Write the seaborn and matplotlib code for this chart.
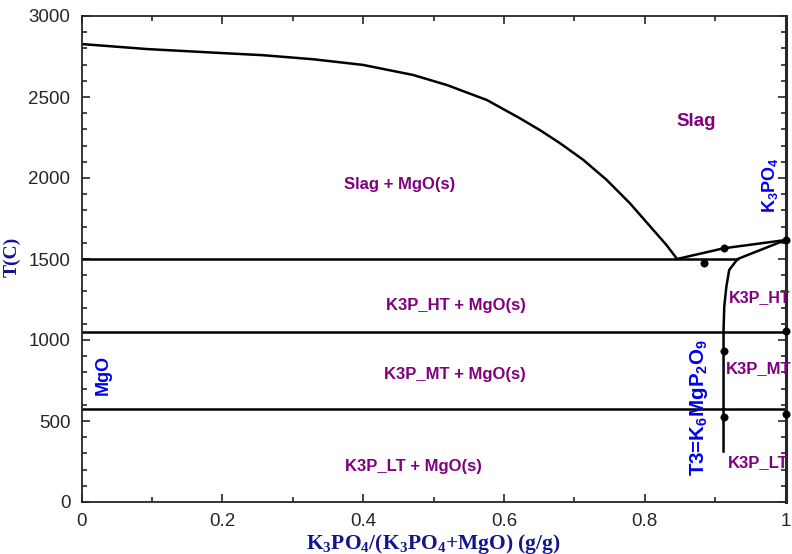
import matplotlib
matplotlib.use("Agg")
import matplotlib.pyplot as plt
from matplotlib.ticker import MultipleLocator
import seaborn as sns

# ---- data ----
liq_x = [0.0, 0.093, 0.187, 0.258, 0.329, 0.400, 0.424, 0.471, 0.519, 0.576, 0.623,
         0.651, 0.680, 0.713, 0.746, 0.779, 0.808, 0.831, 0.846]
liq_T = [2827, 2796, 2774, 2758, 2733, 2698, 2677, 2636, 2574, 2481, 2368,
         2296, 2214, 2111, 1988, 1844, 1700, 1586, 1500]

k3p_liq_x = [0.846, 0.912, 1.0]
k3p_liq_T = [1500, 1566, 1617]

sol_x = [1.0, 0.932, 0.920, 0.916, 0.913, 0.912, 0.912]
sol_T = [1617, 1500, 1432, 1329, 1206, 1062, 310]

iso_T = [1500, 1052, 572]
iso_xmax = [0.932, 1.0, 1.0]

dot_x = [0.884, 0.912, 1.0, 1.0, 0.912, 0.912, 1.0]
dot_T = [1477, 1566, 1617, 1055, 934, 523, 543]

region_labels = ["Slag", "Slag + MgO(s)", "K3P_HT + MgO(s)", "K3P_MT + MgO(s)",
                 "K3P_LT + MgO(s)", "K3P_HT", "K3P_MT", "K3P_LT"]
region_x = [0.873, 0.452, 0.532, 0.531, 0.471, 0.920, 0.915, 0.918]
region_T = [2346, 1957, 1216, 790, 222, 1265, 821, 241]
region_size = [13.5, 12, 12, 12, 12, 11.5, 12, 12]
region_ha = ["center", "center", "center", "center", "center", "left", "left", "left"]

sns.set_style("ticks")
plt.rcParams['font.family'] = ['Liberation Sans', 'DejaVu Sans']
plt.rcParams['mathtext.default'] = 'regular'

fig = plt.figure(figsize=(7.92, 5.54), dpi=100)
ax = fig.add_axes([81.5/792, 52/554, 704/792, 486/554])

lw = 1.8
sns.lineplot(x=liq_x, y=liq_T, ax=ax, color="black", lw=lw, sort=False, estimator=None)
sns.lineplot(x=k3p_liq_x, y=k3p_liq_T, ax=ax, color="black", lw=lw, sort=False, estimator=None)
sns.lineplot(x=sol_x, y=sol_T, ax=ax, color="black", lw=lw, sort=False, estimator=None)
for T, xm in zip(iso_T, iso_xmax):
    sns.lineplot(x=[0.0, xm], y=[T, T], ax=ax, color="black", lw=lw, sort=False, estimator=None)

sns.scatterplot(x=dot_x, y=dot_T, ax=ax, color="black", s=28, edgecolor="black", zorder=5, clip_on=False)

ax.set_xlim(0, 1)
ax.set_ylim(0, 3000)
ax.xaxis.set_minor_locator(MultipleLocator(0.1))
ax.yaxis.set_major_locator(MultipleLocator(500))
ax.yaxis.set_minor_locator(MultipleLocator(100))
ax.set_xticks([0, 0.2, 0.4, 0.6, 0.8, 1.0])
ax.set_xticklabels(["0", "0.2", "0.4", "0.6", "0.8", "1"])
ax.tick_params(which="both", direction="in", top=True, right=True, labelsize=13.5, width=1.2)
ax.tick_params(which="major", length=6)
ax.tick_params(which="minor", length=3.5)
ax.tick_params(axis="x", pad=8)
ax.tick_params(axis="y", pad=8)
for s in ax.spines.values():
    s.set_linewidth(1.3)
    s.set_visible(True)
ax.spines["right"].set_linewidth(2.2)

purple = "#800080"
blue = "#0000EE"
navy = "#14148C"

for lab, x, T, fs, ha in zip(region_labels, region_x, region_T, region_size, region_ha):
    ax.text(x, T, lab, color=purple, fontsize=fs, fontweight="bold", ha=ha, va="center", clip_on=False)

ax.text(0.031, 784, "MgO", color=blue, fontsize=13, fontweight="bold", rotation=90, ha="center", va="center")
ax.text(0.978, 1957, "K$_3$PO$_4$", color=blue, fontsize=13, fontweight="bold", rotation=90, ha="center", va="center")
ax.text(0.877, 583, "T3=K$_6$MgP$_2$O$_9$", color=blue, fontsize=14.8, fontweight="bold", rotation=90, ha="center", va="center")

ax.set_xlabel("K$_3$PO$_4$/(K$_3$PO$_4$+MgO) (g/g)", fontsize=15.5, fontweight="bold",
              family="Liberation Serif", color=navy, labelpad=1)
ax.set_ylabel("T(C)", fontsize=14, fontweight="bold", family="Liberation Serif", color=navy)
ax.yaxis.set_label_coords(-0.086, 0.505)

fig.savefig("out.png", dpi=100)
